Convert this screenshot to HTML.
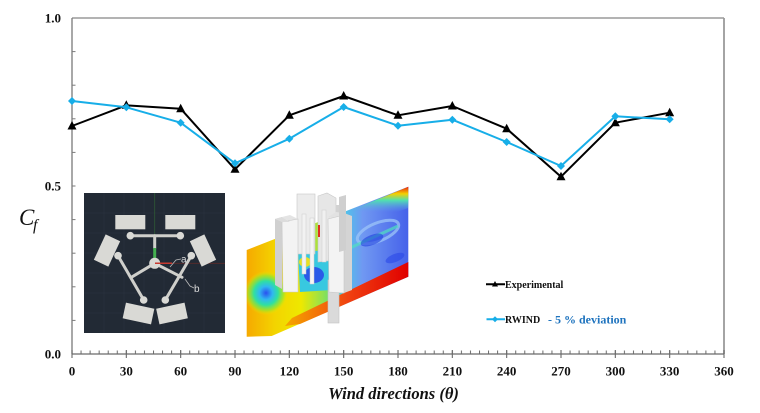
<!DOCTYPE html>
<html><head><meta charset="utf-8"><style>
html,body{margin:0;padding:0;background:#fff;}
svg{display:block;}
</style></head><body>
<svg width="760" height="413" viewBox="0 0 760 413" xmlns="http://www.w3.org/2000/svg">
<defs>
<pattern id="mt" patternUnits="userSpaceOnUse" x="71.5" y="350.5" width="9.05556" height="4">
<rect x="0" y="0" width="1" height="3.5" fill="#6a6a6a"/>
</pattern>
<linearGradient id="pg" gradientUnits="userSpaceOnUse" x1="246" y1="0" x2="408" y2="0">
<stop offset="0" stop-color="#f6a800"/>
<stop offset="0.18" stop-color="#f3d400"/>
<stop offset="0.34" stop-color="#eee800"/>
<stop offset="0.5" stop-color="#7ee060"/>
<stop offset="0.6" stop-color="#4cc8e8"/>
<stop offset="0.72" stop-color="#7098f2"/>
<stop offset="1" stop-color="#4662ea"/>
</linearGradient>
<radialGradient id="blob" gradientUnits="userSpaceOnUse" cx="266" cy="293" r="22">
<stop offset="0" stop-color="#2a50f0"/>
<stop offset="0.3" stop-color="#30b8f0"/>
<stop offset="0.55" stop-color="#30e0a0"/>
<stop offset="0.8" stop-color="#90e830" stop-opacity="0.7"/>
<stop offset="1" stop-color="#f0e800" stop-opacity="0"/>
</radialGradient>
<linearGradient id="redb" gradientUnits="userSpaceOnUse" x1="290" y1="0" x2="408" y2="0">
<stop offset="0" stop-color="#f5a000"/>
<stop offset="0.5" stop-color="#f04010"/>
<stop offset="1" stop-color="#e00000"/>
</linearGradient>
<linearGradient id="topb" gradientUnits="userSpaceOnUse" x1="0" y1="186" x2="0" y2="212">
<stop offset="0" stop-color="#e81010"/>
<stop offset="0.3" stop-color="#f5d000"/>
<stop offset="0.55" stop-color="#50e0b0"/>
<stop offset="1" stop-color="#60a0f0" stop-opacity="0"/>
</linearGradient>
</defs>

<!-- inset 1: dark CAD drawing -->
<rect x="84" y="193" width="141" height="140" fill="#222a35"/>
<g stroke="#2a3340" stroke-width="0.6">
<line x1="84" y1="213" x2="225" y2="213"/><line x1="84" y1="233" x2="225" y2="233"/>
<line x1="84" y1="253" x2="225" y2="253"/><line x1="84" y1="273" x2="225" y2="273"/>
<line x1="84" y1="293" x2="225" y2="293"/><line x1="84" y1="313" x2="225" y2="313"/>
<line x1="104" y1="193" x2="104" y2="333"/><line x1="124" y1="193" x2="124" y2="333"/>
<line x1="144" y1="193" x2="144" y2="333"/><line x1="164" y1="193" x2="164" y2="333"/>
<line x1="184" y1="193" x2="184" y2="333"/><line x1="204" y1="193" x2="204" y2="333"/>
</g>
<line x1="154.7" y1="193" x2="154.7" y2="263" stroke="#2f5a35" stroke-width="0.8"/>
<line x1="154.7" y1="263.3" x2="225" y2="263.3" stroke="#5a2a2a" stroke-width="0.8"/>
<g stroke="#cfcfcb" stroke-width="3" stroke-linecap="round">
<line x1="130.3" y1="235.7" x2="180.3" y2="235.7"/>
<line x1="154.7" y1="235.7" x2="154.7" y2="248"/>
<line x1="118" y1="255.7" x2="143.7" y2="300"/>
<line x1="191.3" y1="255.7" x2="165.3" y2="300"/>
<line x1="154.7" y1="263.3" x2="131.3" y2="277.3"/>
<line x1="154.7" y1="263.3" x2="182" y2="277.3"/>
</g>
<line x1="154.7" y1="248" x2="154.7" y2="262" stroke="#44b050" stroke-width="3"/>
<g fill="#d9d9d5">
<rect x="115.3" y="215" width="30" height="14.3"/>
<rect x="165.3" y="215" width="30" height="14.3"/>
<rect x="-14" y="-8" width="28" height="16" transform="translate(107,250.5) rotate(-65)"/>
<rect x="-14" y="-8" width="28" height="16" transform="translate(203,250.5) rotate(65)"/>
<rect x="-14.5" y="-8" width="29" height="16" transform="translate(138.5,313.5) rotate(12)"/>
<rect x="-14.5" y="-8" width="29" height="16" transform="translate(172,313.5) rotate(-12)"/>
<circle cx="130.3" cy="235.7" r="3.8"/>
<circle cx="180.3" cy="235.7" r="3.8"/>
<circle cx="118" cy="255.7" r="3.8"/>
<circle cx="191.3" cy="255.7" r="3.8"/>
<circle cx="143.7" cy="300" r="3.8"/>
<circle cx="165.3" cy="300" r="3.8"/>
<circle cx="154.7" cy="263.3" r="5.5"/>
</g>
<line x1="155" y1="263.3" x2="172" y2="263.3" stroke="#c83a30" stroke-width="1.5"/>
<path d="M170 267 L176 260 L181 259" stroke="#bbb" stroke-width="0.8" fill="none"/>
<path d="M185 279 L190 286 L194 288" stroke="#bbb" stroke-width="0.8" fill="none"/>
<text x="181" y="262.5" font-family="Liberation Sans, sans-serif" font-size="10" fill="#dcdcdc">a</text>
<text x="194" y="292" font-family="Liberation Sans, sans-serif" font-size="10" fill="#dcdcdc">b</text>

<!-- inset 2: CFD image -->
<polygon points="246.7,250 408.3,186.7 408.3,276.7 271.7,336 246.7,336.7" fill="url(#pg)"/>
<polygon points="246.7,250 408.3,186.7 408.3,276.7 271.7,336 246.7,336.7" fill="url(#blob)"/>
<polygon points="330,219 408.3,186.7 408.3,208 335,234" fill="url(#topb)"/>
<ellipse cx="378" cy="232" rx="22" ry="9" transform="rotate(-22 378 232)" fill="none" stroke="#9cc4f8" stroke-width="3" opacity="0.75"/>
<path d="M350 248 L398 226" stroke="#50e0c0" stroke-width="3" opacity="0.7"/>
<ellipse cx="372" cy="240" rx="12" ry="5" transform="rotate(-22 372 240)" fill="#2040e0" opacity="0.6"/>
<ellipse cx="395" cy="258" rx="10" ry="4" transform="rotate(-22 395 258)" fill="#2a48e8" opacity="0.6"/>
<polygon points="292,318 408.3,262 408.3,276.7 300,324 285,326" fill="url(#redb)"/>
<polygon points="298,252 330,250 332,290 300,292" fill="#38c8e0"/>
<ellipse cx="314" cy="275" rx="10" ry="8" fill="#2a5ae8"/>
<ellipse cx="305" cy="262" rx="6" ry="5" fill="#e8e020"/>
<!-- buildings -->
<rect x="328" y="280" width="11" height="43" fill="#dadada" stroke="#c4c4c4" stroke-width="0.6"/>
<rect x="297" y="194" width="18" height="60" fill="#ececec" stroke="#c8c8c8" stroke-width="0.6"/>
<polygon points="318,196 327,193 336,198 336,260 318,262" fill="#e6e6e6" stroke="#c8c8c8" stroke-width="0.6"/>
<rect x="336" y="205" width="6" height="55" fill="#d2d2d2"/>
<rect x="302" y="214" width="4" height="60" fill="#f2f2f2" stroke="#ccc" stroke-width="0.5"/>
<rect x="310" y="218" width="4" height="66" fill="#f4f4f4" stroke="#ccc" stroke-width="0.5"/>
<rect x="322" y="210" width="4" height="52" fill="#f0f0f0" stroke="#ccc" stroke-width="0.5"/>
<rect x="318" y="225" width="2" height="12" fill="#e03020"/>
<!-- left front block -->
<polygon points="275,219 282,217 282,289 275,285" fill="#d0d0d0"/>
<polygon points="282,217 290,215 298,219 290,222" fill="#e4e4e4"/>
<polygon points="282,222 298,219 298,292 283,292" fill="#f3f3f3" stroke="#c8c8c8" stroke-width="0.6"/>
<polygon points="275,219 282,217 290,222 282,222" fill="#dcdcdc"/>
<!-- right front block -->
<polygon points="344,213 352,216 352,290 344,293" fill="#d4d4d4"/>
<polygon points="328,217 336,212 344,213 336,219" fill="#e2e2e2"/>
<polygon points="328,219 344,215 344,293 329,292" fill="#f3f3f3" stroke="#c8c8c8" stroke-width="0.6"/>
<!-- right back block -->
<polygon points="339,197 346,195 346,250 339,252" fill="#cfcfcf"/>

<!-- axes frame -->
<line x1="72" y1="18" x2="724" y2="18" stroke="#9a9a9a" stroke-width="1.5"/>
<line x1="724" y1="18" x2="724" y2="354" stroke="#9a9a9a" stroke-width="1.8"/>
<line x1="72" y1="18" x2="72" y2="354" stroke="#7a7a7a" stroke-width="1.3"/>
<line x1="72" y1="354" x2="724" y2="354" stroke="#6a6a6a" stroke-width="1.3"/>
<rect x="71.5" y="350.5" width="653.5" height="3.5" fill="url(#mt)"/>
<g stroke="#6a6a6a" stroke-width="1.1">
<line x1="126.33" y1="350" x2="126.33" y2="358"/><line x1="180.67" y1="350" x2="180.67" y2="358"/>
<line x1="235" y1="350" x2="235" y2="358"/><line x1="289.33" y1="350" x2="289.33" y2="358"/>
<line x1="343.67" y1="350" x2="343.67" y2="358"/><line x1="398" y1="350" x2="398" y2="358"/>
<line x1="452.33" y1="350" x2="452.33" y2="358"/><line x1="506.67" y1="350" x2="506.67" y2="358"/>
<line x1="561" y1="350" x2="561" y2="358"/><line x1="615.33" y1="350" x2="615.33" y2="358"/>
<line x1="669.67" y1="350" x2="669.67" y2="358"/><line x1="724" y1="350" x2="724" y2="358"/>
<line x1="72" y1="350" x2="72" y2="358"/>
</g>
<g stroke="#7a7a7a" stroke-width="1">
<line x1="72" y1="320.4" x2="75.5" y2="320.4"/><line x1="72" y1="286.8" x2="75.5" y2="286.8"/>
<line x1="72" y1="253.2" x2="75.5" y2="253.2"/><line x1="72" y1="219.6" x2="75.5" y2="219.6"/>
<line x1="72" y1="186" x2="75.5" y2="186"/><line x1="72" y1="152.4" x2="75.5" y2="152.4"/>
<line x1="72" y1="118.8" x2="75.5" y2="118.8"/><line x1="72" y1="85.2" x2="75.5" y2="85.2"/>
<line x1="72" y1="51.6" x2="75.5" y2="51.6"/>
</g>

<!-- tick labels -->
<g font-family="Liberation Serif, serif" font-weight="bold" font-size="13" fill="#111" text-anchor="end">
<text x="61" y="22.5">1.0</text>
<text x="61" y="190.5">0.5</text>
<text x="61" y="358.5">0.0</text>
</g>
<g font-family="Liberation Serif, serif" font-weight="bold" font-size="13" fill="#111" text-anchor="middle">
<text x="72" y="375.5">0</text><text x="126.33" y="375.5">30</text><text x="180.67" y="375.5">60</text>
<text x="235" y="375.5">90</text><text x="289.33" y="375.5">120</text><text x="343.67" y="375.5">150</text>
<text x="398" y="375.5">180</text><text x="452.33" y="375.5">210</text><text x="506.67" y="375.5">240</text>
<text x="561" y="375.5">270</text><text x="615.33" y="375.5">300</text><text x="669.67" y="375.5">330</text>
<text x="724" y="375.5">360</text>
</g>
<text x="393.5" y="399" text-anchor="middle" font-family="Liberation Serif, serif" font-weight="bold" font-style="italic" font-size="16.5" fill="#111">Wind directions (θ)</text>
<text x="19" y="225" font-family="Liberation Serif, serif" font-style="italic" font-size="23" fill="#111">C</text>
<text x="33" y="230" font-family="Liberation Serif, serif" font-style="italic" font-size="16" fill="#111">f</text>

<!-- series -->
<polyline fill="none" stroke="#000" stroke-width="2" stroke-linejoin="round" points="72,126 126.33,105.3 180.67,108.7 235,169.3 289.33,115.3 343.67,96 398,115.3 452.33,106 506.67,128.7 561,176.7 615.33,122.7 669.67,112.7"/>
<g fill="#000">
<polygon points="72,121 67.5,129.5 76.5,129.5"/>
<polygon points="126.33,100.3 121.83,108.8 130.83,108.8"/>
<polygon points="180.67,103.7 176.17,112.2 185.17,112.2"/>
<polygon points="235,164.3 230.5,172.8 239.5,172.8"/>
<polygon points="289.33,110.3 284.83,118.8 293.83,118.8"/>
<polygon points="343.67,91 339.17,99.5 348.17,99.5"/>
<polygon points="398,110.3 393.5,118.8 402.5,118.8"/>
<polygon points="452.33,101 447.83,109.5 456.83,109.5"/>
<polygon points="506.67,123.7 502.17,132.2 511.17,132.2"/>
<polygon points="561,171.7 556.5,180.2 565.5,180.2"/>
<polygon points="615.33,117.7 610.83,126.2 619.83,126.2"/>
<polygon points="669.67,107.7 665.17,116.2 674.17,116.2"/>
</g>
<polyline fill="none" stroke="#17aee8" stroke-width="2" stroke-linejoin="round" points="72,101 126.33,107.3 180.67,122.7 235,163.3 289.33,138.7 343.67,107 398,125.7 452.33,119.7 506.67,142 561,166 615.33,116.3 669.67,119.3"/>
<g fill="#17aee8">
<polygon points="72,97 76,101 72,105 68,101"/>
<polygon points="126.33,103.3 130.33,107.3 126.33,111.3 122.33,107.3"/>
<polygon points="180.67,118.7 184.67,122.7 180.67,126.7 176.67,122.7"/>
<polygon points="235,159.3 239,163.3 235,167.3 231,163.3"/>
<polygon points="289.33,134.7 293.33,138.7 289.33,142.7 285.33,138.7"/>
<polygon points="343.67,103 347.67,107 343.67,111 339.67,107"/>
<polygon points="398,121.7 402,125.7 398,129.7 394,125.7"/>
<polygon points="452.33,115.7 456.33,119.7 452.33,123.7 448.33,119.7"/>
<polygon points="506.67,138 510.67,142 506.67,146 502.67,142"/>
<polygon points="561,162 565,166 561,170 557,166"/>
<polygon points="615.33,112.3 619.33,116.3 615.33,120.3 611.33,116.3"/>
<polygon points="669.67,115.3 673.67,119.3 669.67,123.3 665.67,119.3"/>
</g>

<!-- legend -->
<line x1="486" y1="284.3" x2="505" y2="284.3" stroke="#000" stroke-width="2"/>
<polygon points="495,281 492,286.5 498,286.5" fill="#000"/>
<text x="505" y="288" font-family="Liberation Serif, serif" font-weight="bold" font-size="10" fill="#111">Experimental</text>
<line x1="486.5" y1="319.3" x2="505" y2="319.3" stroke="#17aee8" stroke-width="2"/>
<polygon points="495,316.3 498,319.3 495,322.3 492,319.3" fill="#17aee8"/>
<text x="505" y="323" font-family="Liberation Serif, serif" font-weight="bold" font-size="10" fill="#111">RWIND</text>
<text x="548" y="323.5" font-family="Liberation Serif, serif" font-weight="bold" font-size="12" fill="#1e73be">- 5 % deviation</text>
</svg>
</body></html>
